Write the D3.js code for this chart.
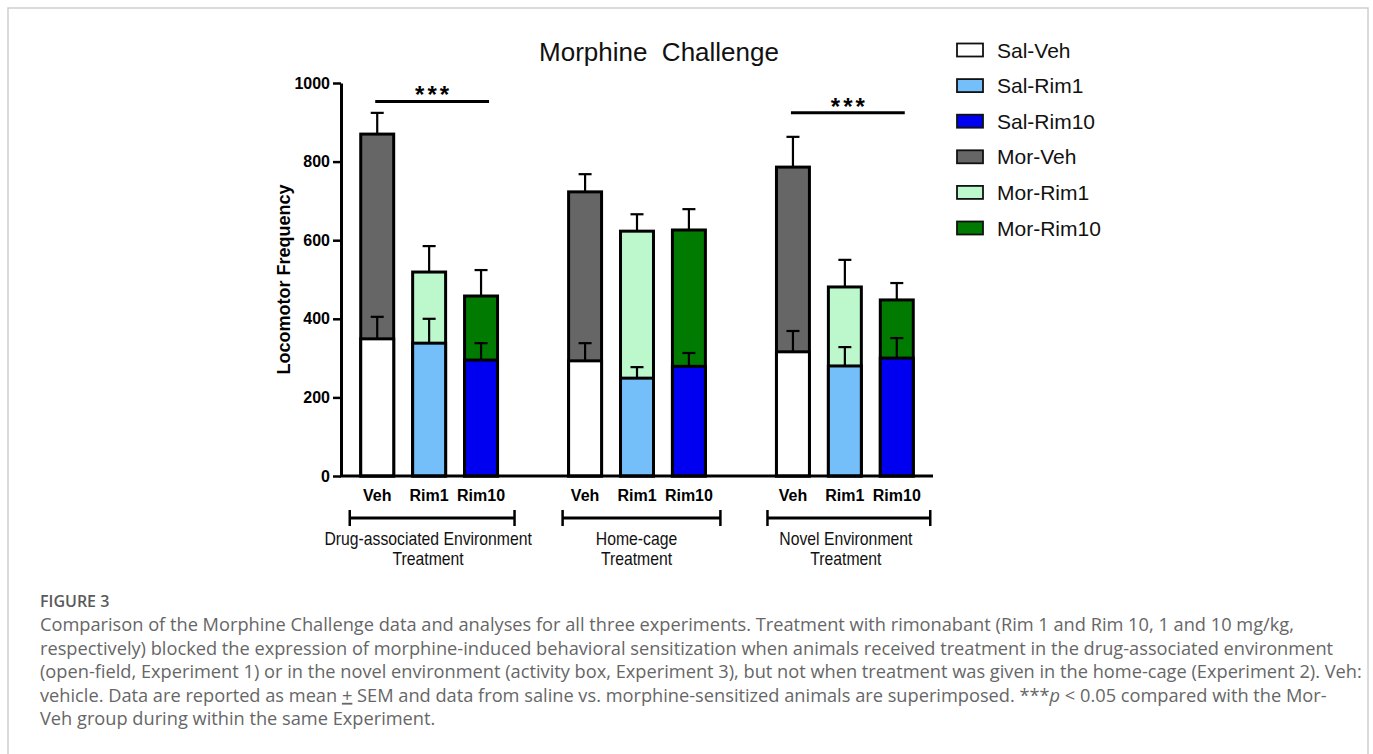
<!DOCTYPE html>
<html>
<head>
<meta charset="utf-8">
<script src="https://cdn.jsdelivr.net/npm/d3@7"></script>
<style>
  html, body { margin: 0; padding: 0; background: #fff; }
  svg { display: block; }
</style>
</head>
<body>
<div id="vis"></div>
<script>
// Morphine Challenge: saline bars superimposed on morphine bars, three experiments.

const GROUPS = [
  ["Drug-associated Environment", "Treatment"],
  ["Home-cage", "Treatment"],
  ["Novel Environment", "Treatment"],
];
const TREATMENTS = ["Veh", "Rim1", "Rim10"];

// mean / SEM per group (rows) × treatment (cols)
const MOR_MEAN = [[870, 519, 458], [723, 623, 626], [786, 481, 448]];
const MOR_SEM  = [[ 54,  66,  66], [ 45,  43,  53], [ 77,  69,  43]];
const SAL_MEAN = [[349, 338, 295], [293, 249, 279], [316, 280, 300]];
const SAL_SEM  = [[ 56,  62,  43], [ 45,  28,  34], [ 53,  48,  51]];

const SAL_COLORS = ["#ffffff", "#74bef9", "#0000f0"];
const MOR_COLORS = ["#666666", "#bdf8cc", "#007a00"];

const Y_TICKS = [0, 200, 400, 600, 800, 1000];

// significance bars: group index, height in y units
const SIGS = [
  { group: 0, value: 953 },
  { group: 2, value: 924 },
];

const LEGEND = [
  { label: "Sal-Veh",   color: SAL_COLORS[0] },
  { label: "Sal-Rim1",  color: SAL_COLORS[1] },
  { label: "Sal-Rim10", color: SAL_COLORS[2] },
  { label: "Mor-Veh",   color: MOR_COLORS[0] },
  { label: "Mor-Rim1",  color: MOR_COLORS[1] },
  { label: "Mor-Rim10", color: MOR_COLORS[2] },
];

const CAPTION = [
  "Comparison of the Morphine Challenge data and analyses for all three experiments. Treatment with rimonabant (Rim 1 and Rim 10, 1 and 10 mg/kg,",
  "respectively) blocked the expression of morphine-induced behavioral sensitization when animals received treatment in the drug-associated environment",
  "(open-field, Experiment 1) or in the novel environment (activity box, Experiment 3), but not when treatment was given in the home-cage (Experiment 2). Veh:",
  null, // line with underline / italic, built below
  "Veh group during within the same Experiment.",
];

// ── Layout ───────────────────────────────────────────────────────────────────

const W = 1373, H = 754;
const FONT = "'Liberation Sans', Arial, sans-serif";

const svg = d3.select("#vis").append("svg").attr("width", W).attr("height", H);

// card frame
svg.append("path")
  .attr("d", `M8,${H + 5} V8 H1368 V${H + 5}`)
  .attr("fill", "none").attr("stroke", "#cfcfcf").attr("stroke-width", 1.5);

const x0 = d3.scaleBand().domain(d3.range(GROUPS.length))
  .range([341, 933]).paddingInner(0.246).paddingOuter(0.047);
const x1 = d3.scaleBand().domain(TREATMENTS)
  .range([0, x0.bandwidth()]).paddingInner(0.365).paddingOuter(0.192);
const y = d3.scaleLinear().domain([0, 1000]).range([476, 83]);

const bw = x1.bandwidth();
const cx = (g, t) => x0(g) + x1(t) + bw / 2;

// title
svg.append("text")
  .attr("x", 659).attr("y", 61).attr("text-anchor", "middle")
  .attr("xml:space", "preserve")
  .style("font-family", FONT).style("font-size", "26px").style("fill", "#111")
  .text("Morphine  Challenge");

// y axis
const yAxis = svg.append("g").attr("transform", "translate(341,0)")
  .call(d3.axisLeft(y).tickValues(Y_TICKS).tickFormat(d3.format("d"))
    .tickSize(8).tickPadding(3).tickSizeOuter(0));
yAxis.select(".domain").attr("stroke", "#000").attr("stroke-width", 3);
yAxis.selectAll(".tick line").attr("stroke", "#000").attr("stroke-width", 2.5);
yAxis.selectAll(".tick text")
  .style("font-family", FONT).style("font-size", "16px").style("font-weight", "bold").style("fill", "#000");

svg.append("text")
  .attr("transform", `translate(290,${y(500)}) rotate(-90)`)
  .attr("text-anchor", "middle")
  .style("font-family", FONT).style("font-size", "18px").style("font-weight", "bold").style("fill", "#000")
  .text("Locomotor Frequency");

// bars
const cells = [];
GROUPS.forEach((_, g) => TREATMENTS.forEach((t, i) => cells.push({ g, t, i })));

const barG = svg.append("g");
function drawLayer(means, sems, colors) {
  barG.append("g").selectAll("rect").data(cells).join("rect")
    .attr("x", d => x0(d.g) + x1(d.t)).attr("width", bw)
    .attr("y", d => y(means[d.g][d.i]))
    .attr("height", d => y(0) - y(means[d.g][d.i]))
    .attr("fill", d => colors[d.i]).attr("stroke", "#000").attr("stroke-width", 3);
  const eb = barG.append("g").attr("stroke", "#000").attr("stroke-width", 2.2);
  eb.selectAll("line.v").data(cells).join("line").attr("class", "v")
    .attr("x1", d => cx(d.g, d.t)).attr("x2", d => cx(d.g, d.t))
    .attr("y1", d => y(means[d.g][d.i])).attr("y2", d => y(means[d.g][d.i] + sems[d.g][d.i]));
  eb.selectAll("line.c").data(cells).join("line").attr("class", "c")
    .attr("x1", d => cx(d.g, d.t) - 6.5).attr("x2", d => cx(d.g, d.t) + 6.5)
    .attr("y1", d => y(means[d.g][d.i] + sems[d.g][d.i])).attr("y2", d => y(means[d.g][d.i] + sems[d.g][d.i]));
}
drawLayer(MOR_MEAN, MOR_SEM, MOR_COLORS);
drawLayer(SAL_MEAN, SAL_SEM, SAL_COLORS);

// x axis line drawn over bar bottoms
svg.append("line")
  .attr("x1", 340).attr("x2", 933).attr("y1", y(0)).attr("y2", y(0))
  .attr("stroke", "#000").attr("stroke-width", 3);

// treatment labels
svg.append("g").selectAll("text").data(cells).join("text")
  .attr("x", d => cx(d.g, d.t)).attr("y", 501).attr("text-anchor", "middle")
  .style("font-family", FONT).style("font-size", "16px").style("font-weight", "bold").style("fill", "#000")
  .text(d => d.t);

// group brackets + labels (condensed face emulated with a horizontal squeeze)
const BRACKET_PAD = [[11, 17], [6, 15], [9, 17]];
const LABEL_SHIFT = [-4, -5, -3];
GROUPS.forEach((lines, g) => {
  const a = x0(g) + x1(TREATMENTS[0]) - BRACKET_PAD[g][0];
  const b = x0(g) + x1(TREATMENTS[2]) + bw + BRACKET_PAD[g][1];
  const by = 518;
  const br = svg.append("g").attr("stroke", "#000").attr("stroke-width", 2.5);
  br.append("line").attr("x1", a).attr("x2", b).attr("y1", by).attr("y2", by).attr("stroke-width", 3);
  br.append("line").attr("x1", a).attr("x2", a).attr("y1", by - 8).attr("y2", by + 8);
  br.append("line").attr("x1", b).attr("x2", b).attr("y1", by - 8).attr("y2", by + 8);
  const cxg = (a + b) / 2 + LABEL_SHIFT[g];
  lines.forEach((ln, k) => {
    svg.append("text").attr("text-anchor", "middle")
      .attr("transform", `translate(${cxg},${545 + k * 19.5}) scale(0.83,1)`)
      .style("font-family", FONT).style("font-size", "19px").style("fill", "#111")
      .text(ln);
  });
});

// significance
SIGS.forEach(s => {
  const a = cx(s.group, TREATMENTS[0]) - 2;
  const b = cx(s.group, TREATMENTS[2]) + 8;
  svg.append("line")
    .attr("x1", a).attr("x2", b).attr("y1", y(s.value)).attr("y2", y(s.value))
    .attr("stroke", "#000").attr("stroke-width", 3);
  svg.append("text")
    .attr("x", (a + b) / 2 + 1.5).attr("y", y(s.value) + 2).attr("text-anchor", "middle")
    .style("font-family", FONT).style("font-size", "24px").style("font-weight", "bold")
    .style("letter-spacing", "3px").style("fill", "#000")
    .text("***");
});

// legend
const lg = svg.append("g").attr("transform", "translate(957,50)");
LEGEND.forEach((d, i) => {
  const row = lg.append("g").attr("transform", `translate(0,${i * 35.6})`);
  row.append("rect").attr("x", 0).attr("y", -6.5).attr("width", 26).attr("height", 13)
    .attr("fill", d.color).attr("stroke", "#111").attr("stroke-width", 1.8);
  row.append("text").attr("x", 40).attr("y", 7.5)
    .style("font-family", FONT).style("font-size", "21px").style("fill", "#111")
    .text(d.label);
});

// ── Caption ──────────────────────────────────────────────────────────────────

const CAP_FONT = "'Open Sans', Lato, sans-serif";
svg.append("text")
  .attr("x", 40).attr("y", 607)
  .style("font-family", CAP_FONT).style("font-size", "16px").style("font-weight", "600")
  .style("fill", "#5a5a5a").text("FIGURE 3");

const capG = svg.append("g")
  .style("font-family", CAP_FONT).style("font-size", "16px").style("fill", "#666");
const capLines = CAPTION.map((ln, k) => {
  const t = capG.append("text").attr("x", 40).attr("y", 631 + k * 23.6);
  if (ln !== null) { t.text(ln); return t; }
  t.append("tspan").text("vehicle. Data are reported as mean ");
  t.append("tspan").style("text-decoration", "underline").text("+");
  t.append("tspan").text(" SEM and data from saline vs. morphine-sensitized animals are superimposed. ***");
  t.append("tspan").style("font-style", "italic").text("p");
  t.append("tspan").text(" < 0.05 compared with the Mor-");
  return t;
});
// fit the longest line to the card width
const w2 = capLines[1].node().getComputedTextLength();
capG.style("font-size", (16 * 1294 / w2).toFixed(2) + "px");
</script>
</body>
</html>
